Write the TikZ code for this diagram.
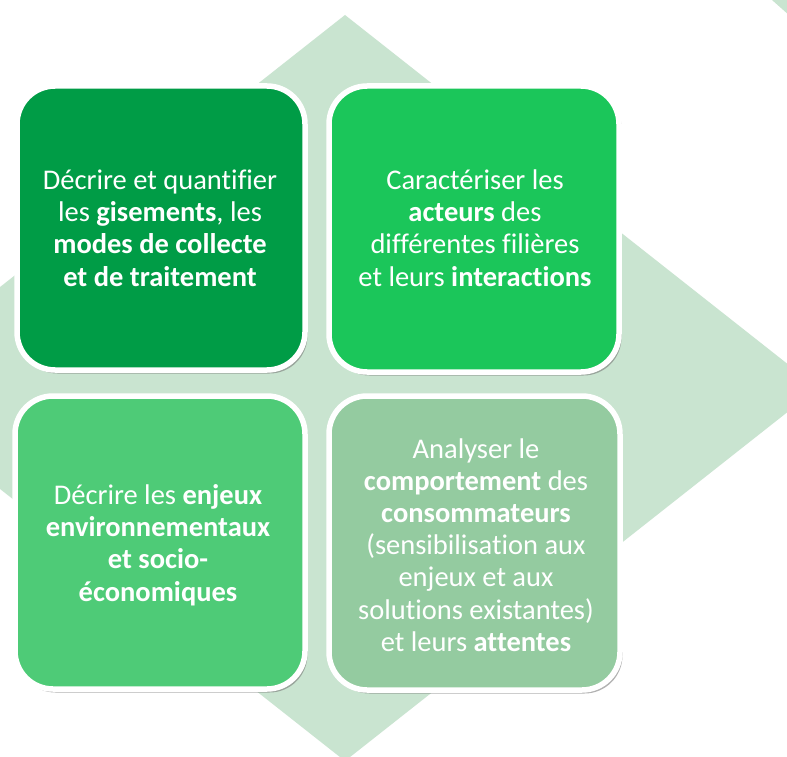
\documentclass[tikz,border=0pt]{standalone}
\usepackage{fontspec}
\setmainfont[Ligatures={NoCommon}]{Carlito}
\definecolor{diamondc}{HTML}{C9E4D0}
\definecolor{cA}{HTML}{009C46}
\definecolor{cB}{HTML}{1BC65A}
\definecolor{cC}{HTML}{4ECB77}
\definecolor{cD}{HTML}{94CBA0}
\tikzset{
  card/.style={draw=white, line width=5.5pt, rounded corners=38pt},
  cardshadow/.style={fill=black!55, opacity=0.55, rounded corners=38pt},
  cardtext/.style={text=white, align=center, font=\fontsize{28.5}{32.2}\selectfont, inner sep=0pt}
}
\begin{document}
\begin{tikzpicture}[x=1pt,y=-1pt]
\useasboundingbox (0,0) rectangle (787,757);
\fill[white] (0,0) rectangle (787,757);
\begin{scope}
\clip (0,0) rectangle (787,757);
\fill[diamondc] (345,15) -- (818,388) -- (345,761) -- (-128,388) -- cycle;
\fill[diamondc] (772,0) -- (790,0) -- (790,16) -- cycle;
\end{scope}
% shadows
\fill[cardshadow] (17,86) ++(2.5,3.5) rectangle ++(288,284);
\fill[cardshadow] (329,86) ++(2.5,3.5) rectangle ++(290,286);
\fill[cardshadow] (15,396) ++(2.5,3.5) rectangle ++(290,293);
\fill[cardshadow] (329,396) ++(2.5,3.5) rectangle ++(291,294);
% cards
\path[card, fill=cA] (17,86) rectangle ++(288,284);
\path[card, fill=cB] (329,86) rectangle ++(290,286);
\path[card, fill=cC] (15,396) rectangle ++(290,293);
\path[card, fill=cD] (329,396) rectangle ++(291,294);
% texts
\node[cardtext] (t1) at (160,228) {Décrire et quantifier\\les \textbf{gisements}, les\\\textbf{modes de collecte}\\\textbf{et de traitement}};
\node[cardtext] (t2) at (475,228) {Caractériser les\\\textbf{acteurs} des\\différentes filières\\et leurs \textbf{interactions}};
\node[cardtext] (t3) at (158,545) {Décrire les \textbf{enjeux}\\\textbf{environnementaux}\\\textbf{et socio-}\\\textbf{économiques}};
\node[cardtext] (t4) at (476,545) {Analyser le\\\textbf{comportement} des\\\textbf{consommateurs}\\(sensibilisation aux\\enjeux et aux\\solutions existantes)\\et leurs \textbf{attentes}};
\end{tikzpicture}
\end{document}
